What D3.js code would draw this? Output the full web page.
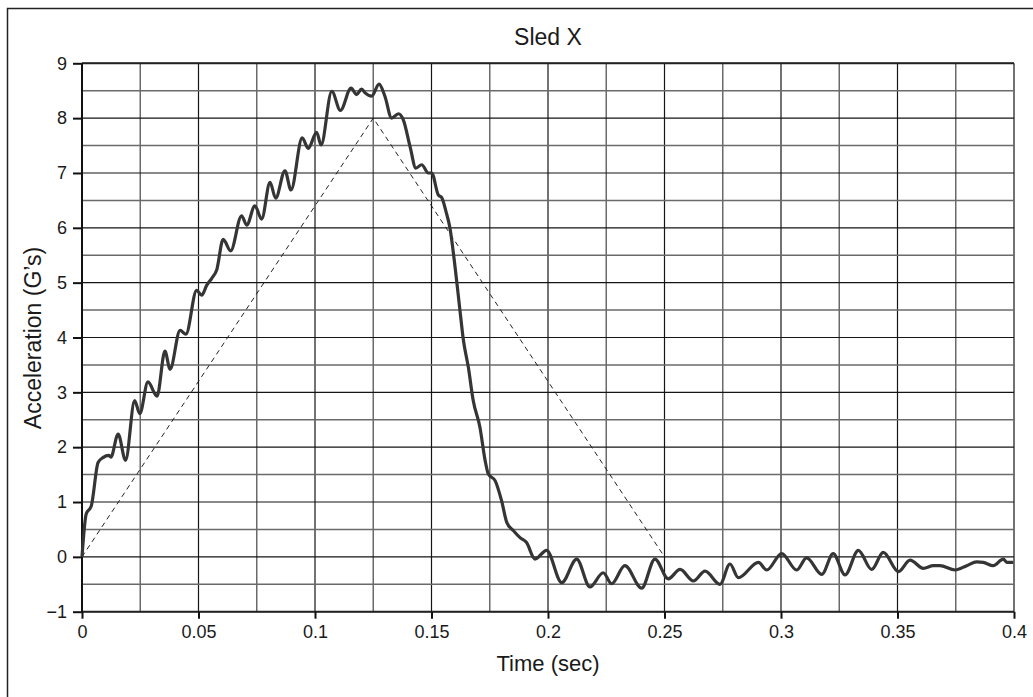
<!DOCTYPE html>
<html><head><meta charset="utf-8">
<script src="https://cdn.jsdelivr.net/npm/d3@7"></script>
<style>body{margin:0;background:#fff}svg{display:block}text{font-family:"Liberation Sans",Arial,sans-serif;fill:#1a1a1a}</style>
</head><body>
<script>
const timeSec = [0,0.0018,0.004,0.0069,0.009,0.0115,0.0124,0.0155,0.0187,0.0226,0.0248,0.0283,0.0322,0.0356,0.0378,0.0421,0.0446,0.0492,0.0514,0.0535,0.0557,0.0578,0.0606,0.0638,0.0685,0.0707,0.0742,0.0771,0.0807,0.0831,0.0871,0.0897,0.0945,0.0971,0.1007,0.1026,0.1072,0.1109,0.1155,0.1178,0.1200,0.1215,0.1243,0.1275,0.1300,0.1329,0.1358,0.1379,0.1408,0.1433,0.1458,0.1486,0.1501,0.1529,0.1544,0.1562,0.1579,0.1601,0.1622,0.1637,0.1658,0.1679,0.1708,0.1730,0.1744,0.1773,0.1801,0.1823,0.1851,0.1880,0.1908,0.1944,0.1994,0.2059,0.2123,0.2180,0.2237,0.2273,0.2330,0.2402,0.2459,0.2516,0.2567,0.2624,0.2674,0.2738,0.2781,0.2817,0.2903,0.2939,0.3003,0.3067,0.3110,0.3175,0.3224,0.3275,0.3332,0.3389,0.3439,0.3504,0.3554,0.3611,0.3654,0.3682,0.3747,0.3797,0.3840,0.3868,0.3911,0.3954,0.3969,0.3997];
const accelG = [0,0.78,0.93,1.72,1.81,1.85,1.82,2.24,1.76,2.85,2.61,3.19,2.93,3.75,3.42,4.13,4.06,4.86,4.77,4.95,5.08,5.23,5.79,5.58,6.22,6.05,6.4,6.16,6.83,6.54,7.04,6.69,7.64,7.45,7.74,7.51,8.49,8.14,8.55,8.43,8.53,8.46,8.4,8.62,8.4,8.0,8.08,7.97,7.48,7.09,7.15,7.0,7.0,6.6,6.55,6.3,6.0,5.29,4.5,3.95,3.46,2.85,2.36,1.76,1.51,1.39,1.02,0.63,0.48,0.35,0.26,-0.04,0.12,-0.47,-0.04,-0.55,-0.29,-0.49,-0.16,-0.57,-0.04,-0.4,-0.23,-0.44,-0.26,-0.5,-0.13,-0.38,-0.1,-0.24,0.06,-0.24,-0.02,-0.32,0.06,-0.33,0.12,-0.23,0.08,-0.27,-0.06,-0.21,-0.16,-0.16,-0.24,-0.16,-0.09,-0.1,-0.16,-0.04,-0.1,-0.1];
const pulseTime = [0,0.125,0.25];
const pulseG = [0,8,0];
const xTicks = [0,0.05,0.1,0.15,0.2,0.25,0.3,0.35,0.4];
const xTickLabels = ["0","0.05","0.1","0.15","0.2","0.25","0.3","0.35","0.4"];
const yTicks = [-1,0,1,2,3,4,5,6,7,8,9];
const xGrid = d3.range(0,17).map(i=>i*0.025);
const yGrid = d3.range(0,21).map(i=>-1+i*0.5);
const title = "Sled X", xTitle = "Time (sec)", yTitle = "Acceleration (G’s)";

const W=1033,H=697;
const svg=d3.select("body").append("svg").attr("width",W).attr("height",H);
svg.append("rect").attr("x",7.5).attr("y",8.5).attr("width",1040).attr("height",700).attr("fill","none").attr("stroke","#222").attr("stroke-width",1.5);
const x=d3.scaleLinear().domain([0,0.4]).range([82,1014]);
const y=d3.scaleLinear().domain([-1,9]).range([611.7,63.3]);

const g=svg.append("g");
g.selectAll(".vg").data(xGrid).join("line")
 .attr("x1",d=>x(d)).attr("x2",d=>x(d)).attr("y1",y(9)).attr("y2",y(-1))
 .attr("stroke",(d,i)=>i%2===0?"#151515":"#6a6a6a").attr("stroke-width",(d,i)=>i%2===0?1.2:1.5);
g.selectAll(".hg").data(yGrid).join("line")
 .attr("x1",x(0)).attr("x2",x(0.4)).attr("y1",d=>y(d)).attr("y2",d=>y(d))
 .attr("stroke",(d,i)=>i%2===0?"#151515":"#6a6a6a").attr("stroke-width",(d,i)=>i%2===0?1.2:1.5);
g.append("line").attr("x1",x(0)).attr("x2",x(0.4)).attr("y1",y(9)).attr("y2",y(9)).attr("stroke","#222").attr("stroke-width",2);
g.append("line").attr("x1",x(0)).attr("x2",x(0.4)).attr("y1",y(-1)).attr("y2",y(-1)).attr("stroke","#222").attr("stroke-width",2);
g.append("line").attr("x1",x(0)).attr("x2",x(0)).attr("y1",y(9)).attr("y2",y(-1)).attr("stroke","#111").attr("stroke-width",2);

const xAxis=d3.axisBottom(x).tickValues(xTicks).tickSize(7).tickPadding(7).tickFormat((d,i)=>xTickLabels[i]);
const xa=svg.append("g").attr("transform",`translate(0,${y(-1)})`).call(xAxis);
xa.select(".domain").remove();
xa.selectAll("line").attr("stroke","#111").attr("stroke-width",2);
xa.selectAll("text").attr("font-size",18).attr("fill","#1a1a1a").attr("font-family","Liberation Sans, Arial, sans-serif");
const yAxis=d3.axisLeft(y).tickValues(yTicks).tickSize(9).tickPadding(6).tickFormat(d3.format("d"));
const ya=svg.append("g").attr("transform",`translate(${x(0)},0)`).call(yAxis);
ya.select(".domain").remove();
ya.selectAll("line").attr("stroke","#111").attr("stroke-width",2);
ya.selectAll("text").attr("font-size",18).attr("fill","#1a1a1a").attr("font-family","Liberation Sans, Arial, sans-serif");

svg.append("path").datum(pulseTime.map((t,i)=>[t,pulseG[i]]))
 .attr("d",d3.line().x(d=>x(d[0])).y(d=>y(d[1])))
 .attr("fill","none").attr("stroke","#222").attr("stroke-width",1).attr("stroke-dasharray","5,4");

svg.append("path").datum(timeSec.map((t,i)=>[t,accelG[i]]))
 .attr("d",d3.line().x(d=>x(d[0])).y(d=>y(d[1])).curve(d3.curveMonotoneX))
 .attr("fill","none").attr("stroke","#353535").attr("stroke-width",3.2).attr("stroke-linejoin","round");

svg.append("text").attr("x",548).attr("y",45).attr("text-anchor","middle").attr("font-size",23).text(title);
svg.append("text").attr("x",548).attr("y",671).attr("text-anchor","middle").attr("font-size",22).text(xTitle);
svg.append("text").attr("transform","translate(41,338) rotate(-90)").attr("text-anchor","middle").attr("font-size",23).text(yTitle);
</script>
</body></html>
